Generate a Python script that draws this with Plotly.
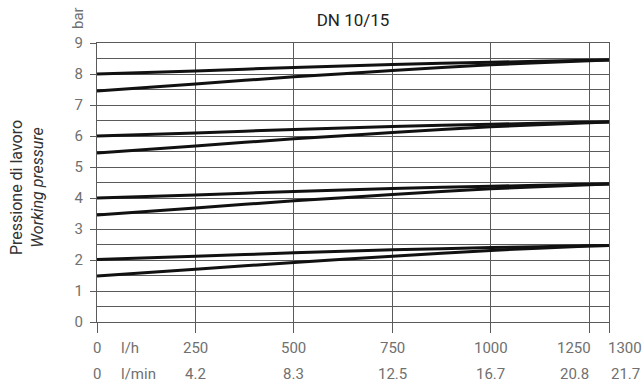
import plotly.graph_objects as go

# ---- data ----
flow_lh = [0, 250, 500, 750, 1000, 1250, 1300]
flow_lmin = ["0", "4.2", "8.3", "12.5", "16.7", "20.8", "21.7"]
flow_lh_labels = ["0", "250", "500", "750", "1000", "1250", "1300"]
y_ticks = [0, 1, 2, 3, 4, 5, 6, 7, 8, 9]

upper_8 = [8.00, 8.10, 8.21, 8.31, 8.38, 8.44, 8.45]
lower_8 = [7.45, 7.68, 7.91, 8.11, 8.30, 8.43, 8.45]
upper_6 = [6.00, 6.10, 6.21, 6.31, 6.38, 6.44, 6.45]
lower_6 = [5.45, 5.68, 5.91, 6.11, 6.30, 6.43, 6.45]
upper_4 = [4.00, 4.10, 4.21, 4.31, 4.38, 4.44, 4.45]
lower_4 = [3.45, 3.68, 3.91, 4.11, 4.30, 4.43, 4.45]
upper_2 = [2.02, 2.12, 2.23, 2.33, 2.40, 2.46, 2.47]
lower_2 = [1.48, 1.70, 1.92, 2.12, 2.31, 2.45, 2.47]

series = [upper_8, lower_8, upper_6, lower_6, upper_4, lower_4, upper_2, lower_2]

FONT = "Roboto"
GRID = "#5a5a5a"
LBL = "#707070"
FS = 15

fig = go.Figure()
for s in series:
    fig.add_trace(go.Scatter(x=flow_lh, y=s, mode="lines",
                             line=dict(color="#111111", width=3, shape="spline", smoothing=0.6),
                             showlegend=False, hoverinfo="skip"))

fig.update_layout(
    width=643, height=385,
    margin=dict(l=97, r=34, t=43, b=63),
    paper_bgcolor="white", plot_bgcolor="white",
    font=dict(family=FONT, size=FS, color=LBL),
    title=dict(text="DN 10/15", x=0.5, xref="paper", xanchor="center",
               y=1, yref="paper", yanchor="bottom", pad=dict(b=17),
               font=dict(family=FONT, size=17, color="#222222")),
)

fig.update_xaxes(
    range=[0, 1300], tickvals=flow_lh, showticklabels=False,
    ticks="outside", ticklen=10, tickcolor=GRID, tickwidth=1.2,
    showgrid=True, gridcolor=GRID, gridwidth=1.2,
    showline=True, linecolor=GRID, linewidth=1.2, mirror=True,
    zeroline=False,
)
fig.update_yaxes(
    range=[0, 9], tickvals=y_ticks,
    ticks="outside", ticklen=6, tickcolor=GRID, tickwidth=1.2,
    tickfont=dict(family=FONT, size=FS, color=LBL), ticklabelstandoff=4,
    showgrid=True, gridcolor=GRID, gridwidth=1.2,
    minor=dict(dtick=0.5, showgrid=True, gridcolor=GRID, gridwidth=1.2, ticks=""),
    showline=True, linecolor=GRID, linewidth=1.2, mirror=True,
    zeroline=False,
)

# x tick labels in two rows (l/h and l/min)
shifts = [0, 0, 0, 0, 0, -15, 16]
for xv, t1, t2, sh in zip(flow_lh, flow_lh_labels, flow_lmin, shifts):
    fig.add_annotation(x=xv, y=0, xref="x", yref="paper", text=t1, showarrow=False,
                       xanchor="center", yanchor="middle", xshift=sh, yshift=-26,
                       font=dict(family=FONT, size=FS, color=LBL))
    fig.add_annotation(x=xv, y=0, xref="x", yref="paper", text=t2, showarrow=False,
                       xanchor="center", yanchor="middle", xshift=sh, yshift=-52,
                       font=dict(family=FONT, size=FS, color=LBL))

fig.add_annotation(x=0, y=0, xref="x", yref="paper", text="l/h", showarrow=False,
                   xanchor="left", yanchor="middle", xshift=22, yshift=-26,
                   font=dict(family=FONT, size=FS, color=LBL))
fig.add_annotation(x=0, y=0, xref="x", yref="paper", text="l/min", showarrow=False,
                   xanchor="left", yanchor="middle", xshift=22, yshift=-52,
                   font=dict(family=FONT, size=FS, color=LBL))

# unit "bar"
fig.add_annotation(x=0, y=1, xref="paper", yref="paper", text="bar", showarrow=False,
                   textangle=-90, xanchor="center", yanchor="middle", xshift=-19, yshift=25,
                   font=dict(family=FONT, size=FS, color=LBL))

# axis title
fig.add_annotation(x=0, y=0.48, xref="paper", yref="paper",
                   text="Pressione di lavoro<br><i>Working pressure</i>", showarrow=False,
                   textangle=-90, xanchor="center", yanchor="middle", xshift=-70,
                   font=dict(family=FONT, size=16, color="#333333"))

fig.write_html("out.html")
